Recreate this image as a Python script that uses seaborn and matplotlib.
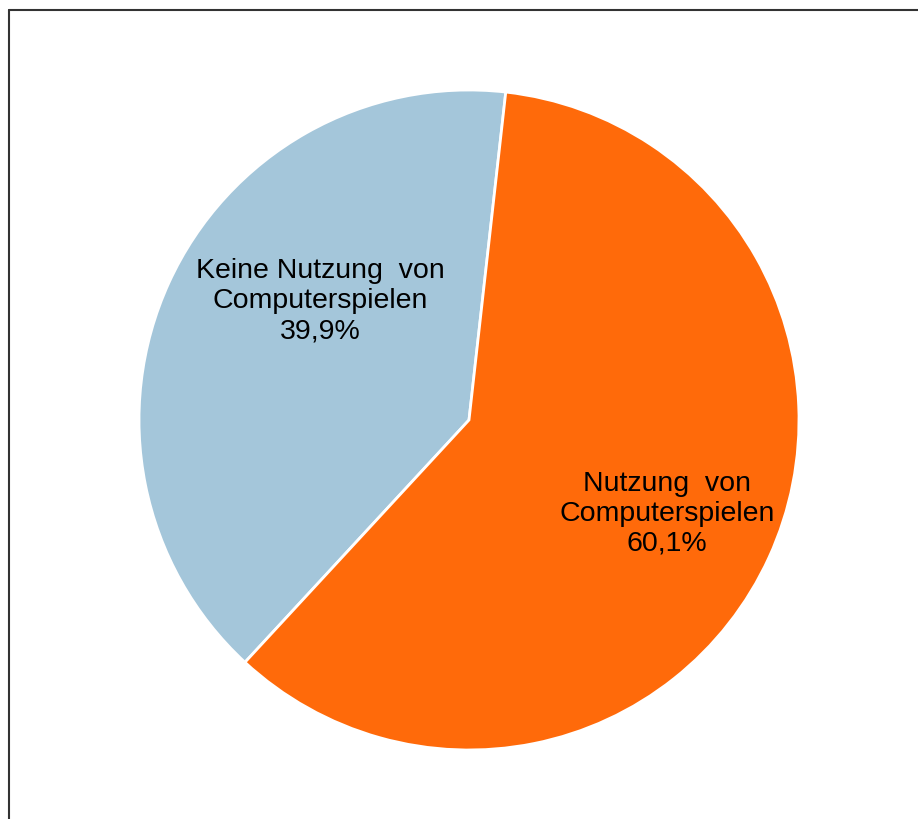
import matplotlib
matplotlib.use("Agg")
import matplotlib.pyplot as plt
from matplotlib.lines import Line2D
import seaborn as sns
import numpy as np

# Share of respondents by computer game usage
categories = ["Keine Nutzung  von\nComputerspielen", "Nutzung  von\nComputerspielen"]
shares = [39.9, 60.1]
colors = ["#A4C6DA", "#FF6A0A"]

sns.set_theme(style="white")
plt.rcParams["font.family"] = ["Liberation Sans", "DejaVu Sans"]

W, H = 918, 819
fig = plt.figure(figsize=(W / 100, H / 100), dpi=100)
fig.patch.set_facecolor("white")
ax = fig.add_axes([0, 0, 1, 1])

cx, cy, r = 469, H - 420, 330
wedges, _ = ax.pie(
    shares,
    colors=colors,
    startangle=83.6,
    counterclock=True,
    center=(cx, cy),
    radius=r,
    frame=True,
    wedgeprops=dict(edgecolor="white", linewidth=2),
)
ax.set_xlim(0, W)
ax.set_ylim(0, H)
ax.set_axis_off()

# Labels inside each slice
label_pos = [(-149, 119), (198, -94)]
for cat, val, (dx, dy) in zip(categories, shares, label_pos):
    txt = f"{cat}\n{val:.1f}%".replace(".", ",")
    ax.text(cx + dx, cy + dy, txt, ha="center", va="center",
            fontsize=20.5, color="black", linespacing=1.2)

# Outer frame (top and left edges visible)
frame_color = "#333333"
fig.add_artist(Line2D([9 / W, 1.0], [1 - 10 / H, 1 - 10 / H],
                      transform=fig.transFigure, color=frame_color, lw=1.5))
fig.add_artist(Line2D([9 / W, 9 / W], [0.0, 1 - 10 / H],
                      transform=fig.transFigure, color=frame_color, lw=1.5))

fig.savefig("out.png", dpi=100, facecolor="white")
